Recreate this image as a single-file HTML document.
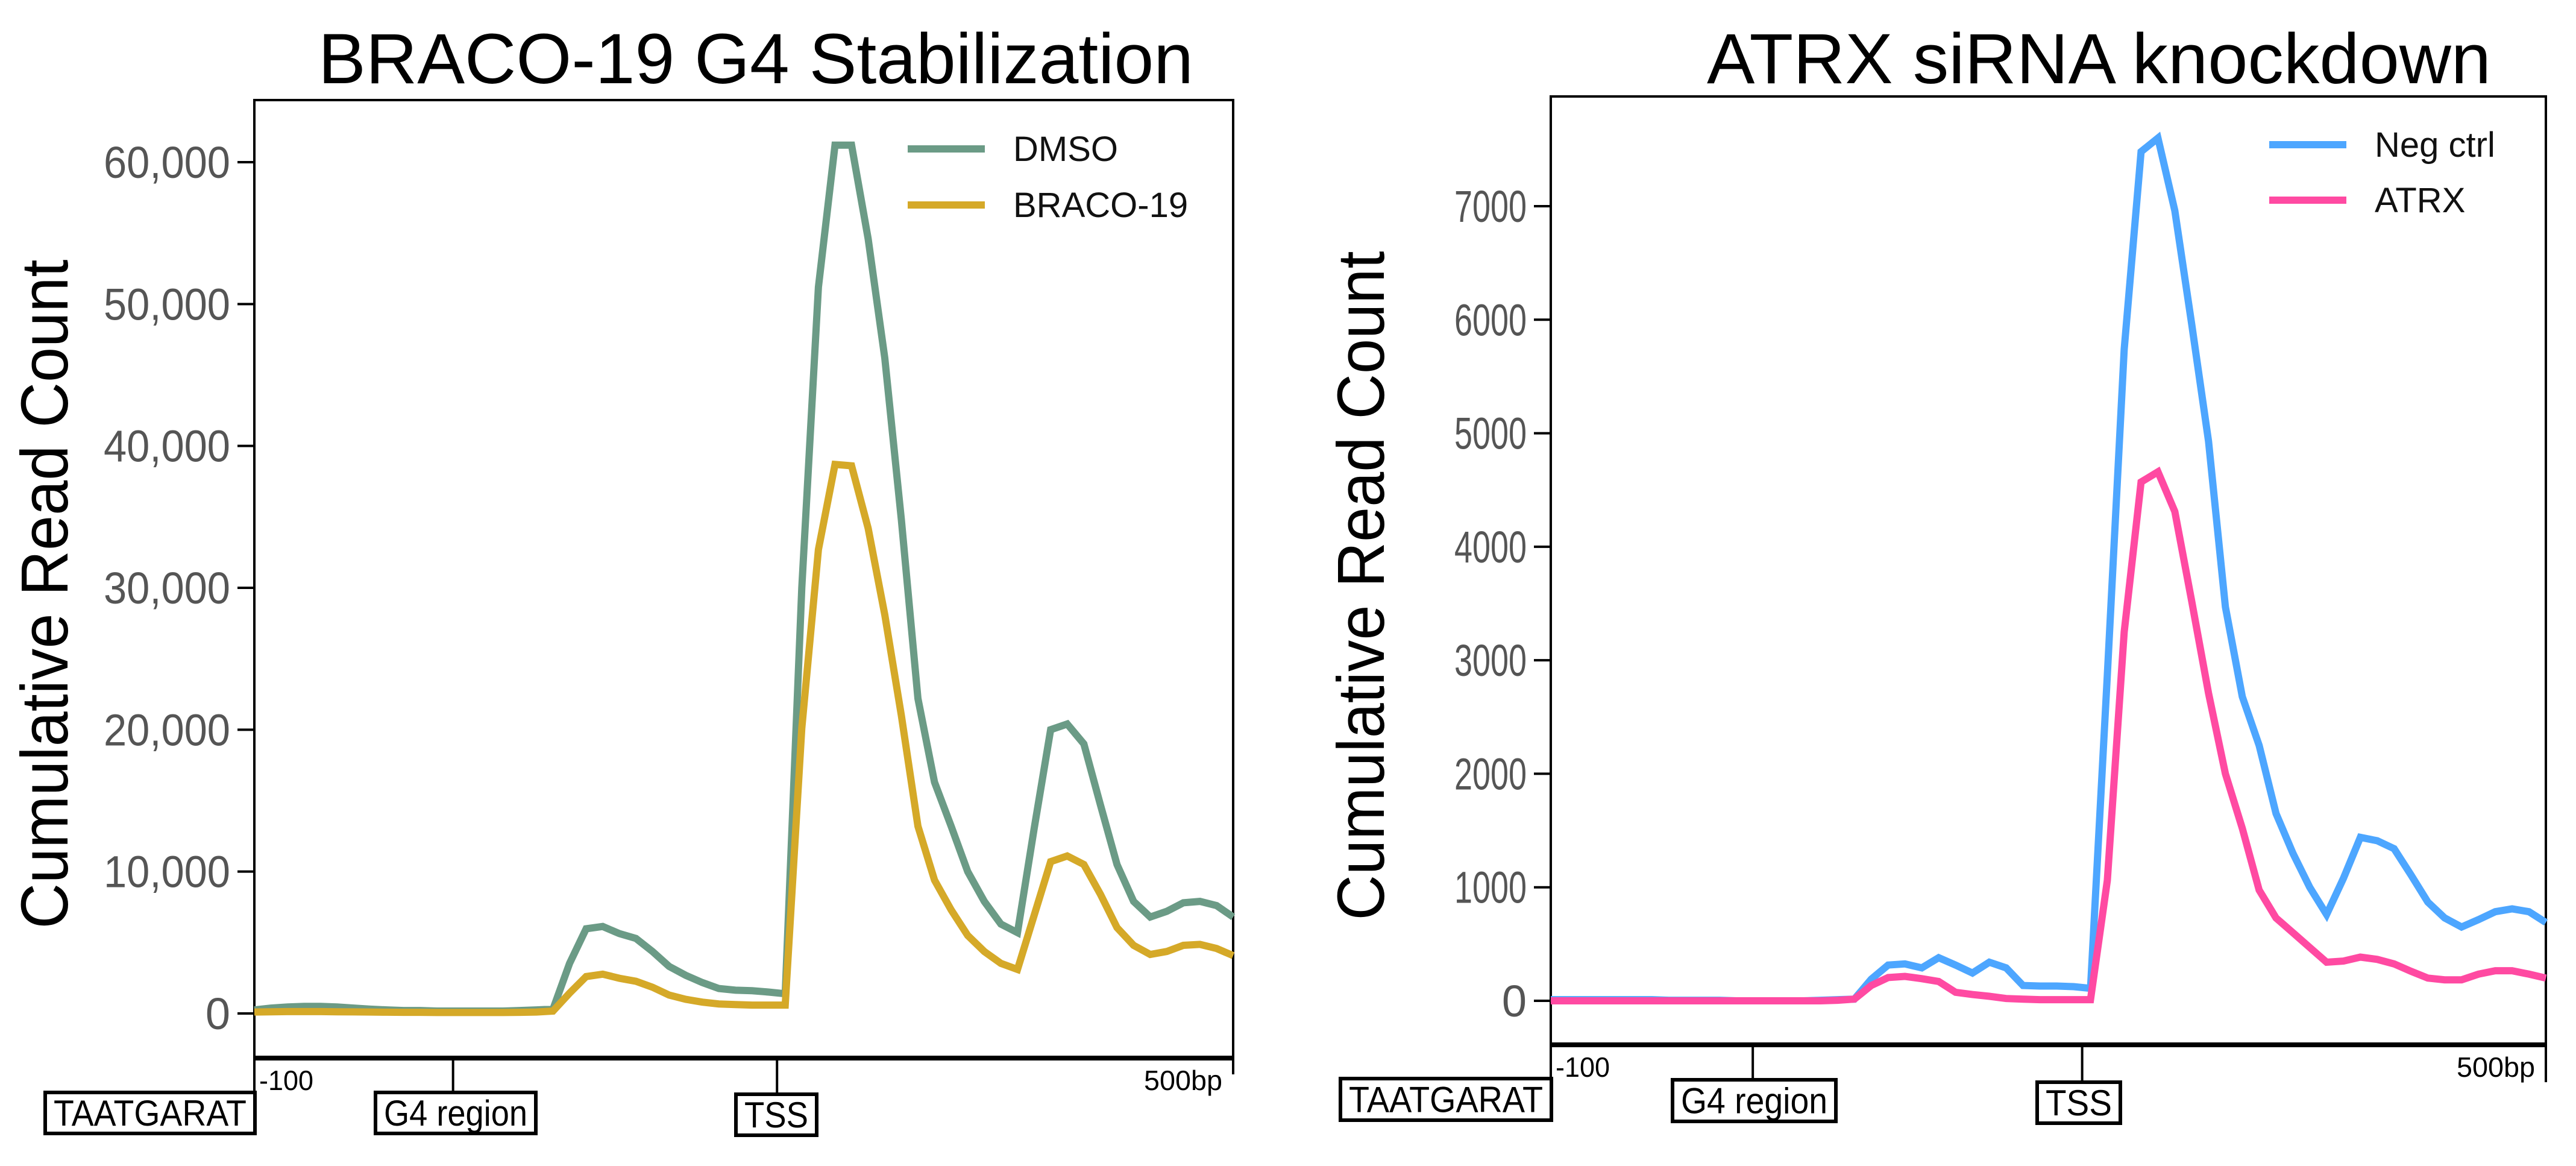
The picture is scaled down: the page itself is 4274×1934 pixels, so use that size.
<!DOCTYPE html>
<html><head><meta charset="utf-8"><style>
html,body{margin:0;padding:0;background:#fff;}
svg{display:block;font-family:"Liberation Sans",sans-serif;}
</style></head><body>
<svg id="fig" width="4274" height="1934" viewBox="0 0 4274 1934" xmlns="http://www.w3.org/2000/svg">
<g id="left"></g>
<g id="right"></g>
</svg>
<script>
// ---- data: left panel (BRACO-19 G4 Stabilization) ----
const dmsoValues = [250,380,460,500,500,460,380,300,250,210,210,170,170,170,170,170,210,250,300,3530,5970,6130,5630,5290,4370,3320,2690,2180,1760,1640,1600,1510,1390,30000,51200,61200,61200,54600,46200,34800,22200,16300,13200,10000,7900,6300,5700,13000,20000,20400,19000,14700,10500,7900,6800,7200,7800,7900,7600,6800];
const bracoValues = [100,120,130,130,130,120,110,100,90,80,80,70,70,70,70,70,80,100,170,1430,2600,2770,2480,2270,1850,1300,1000,800,670,630,590,590,590,20100,32700,38700,38600,34200,28100,21000,13200,9400,7300,5500,4370,3530,3100,6900,10700,11100,10500,8400,6050,4800,4160,4370,4800,4870,4580,4080];
const leftTicks = [0,10000,20000,30000,40000,50000,60000];
const leftTickLabels = ["0","10,000","20,000","30,000","40,000","50,000","60,000"];
// ---- data: right panel (ATRX siRNA knockdown) ----
const negValues = [10,10,10,10,10,10,10,5,5,5,5,0,0,0,0,0,5,10,15,190,315,325,290,380,315,245,340,290,135,130,130,125,110,2870,5740,7480,7600,6960,5960,4930,3470,2680,2250,1650,1300,1000,760,1080,1440,1410,1340,1110,870,730,650,715,785,810,785,690];
const atrxValues = [0,0,0,0,0,0,0,0,0,0,0,0,0,0,0,0,0,5,15,135,205,215,195,170,75,55,40,20,15,10,10,10,10,1060,3250,4570,4660,4310,3520,2710,2000,1520,975,730,600,470,340,350,385,365,325,260,200,185,185,235,265,265,235,200];
const rightTicks = [0,1000,2000,3000,4000,5000,6000,7000];
const rightTickLabels = ["0","1000","2000","3000","4000","5000","6000","7000"];

const NS="http://www.w3.org/2000/svg";
function mk(parent,tag,attrs,text){const e=document.createElementNS(NS,tag);for(const k in attrs)e.setAttribute(k,attrs[k]);if(text!==undefined)e.textContent=text;parent.appendChild(e);return e;}

function panel(g,cfg){
  const {L,R,T,B,y0,yPer,ticks,tickLabels,series,title,tx,tw,legend,ann}=cfg;
  const n=series[0].values.length;
  const xs=i=>L+(R-L)*i/(n-1);
  const ys=v=>y0-v*yPer;
  // frame
  const fr=mk(g,'rect',{x:L,y:T,width:R-L,height:B-T,fill:'none',stroke:'#000','stroke-width':4});
  
  
  const ba=mk(g,'line',{x1:L,x2:R,y1:B,y2:B,stroke:'#000','stroke-width':8});
  
  
  // title
  const t=mk(g,'text',{x:tx,y:138,'font-size':118,textLength:tw,lengthAdjust:'spacingAndGlyphs'},title);
  
  
  // y title
  const yt=mk(g,'text',{x:0,y:0,'font-size':110,'text-anchor':'middle',textLength:1110,lengthAdjust:'spacingAndGlyphs',transform:`translate(${cfg.ytx},${(T+B)/2+25}) rotate(-90)`},'Cumulative Read Count');
  
  
  // ticks
  ticks.forEach((v,i)=>{
    const y=ys(v);
    const tl=mk(g,'line',{x1:L-28,x2:L,y1:y,y2:y,stroke:'#000','stroke-width':4});
    
    
    const lab=tickLabels[i];
    const a={x:L-40,y:y+26,'font-size':74,fill:'#555','text-anchor':'end'};
    if(lab.length>1){a.textLength=lab.length*cfg.charW;a.lengthAdjust='spacingAndGlyphs';}
    const tt=mk(g,'text',a,lab);
    
    
  });
  // series
  series.forEach(s=>{
    const d=s.values.map((v,i)=>(i?'L':'M')+xs(i).toFixed(1)+','+ys(v).toFixed(1)).join(' ');
    const p=mk(g,'path',{d,fill:'none',stroke:s.color,'stroke-width':12,'stroke-linejoin':'miter'});
    
    
  });
  // legend
  series.forEach((s,i)=>{
    const ly=legend.y+i*legend.dy;
    const ll=mk(g,'line',{x1:legend.x,x2:legend.x+128,y1:ly,y2:ly,stroke:s.color,'stroke-width':12});
    
    
    const lt=mk(g,'text',{x:legend.x+175,y:ly+20,'font-size':58,fill:'#111'},s.label);
    
    
  });
  // x annotation ticks
  const W=R-L;
  [[0,ann.t0],[0.203,ann.t1],[0.534,ann.t2],[1,ann.t3]].forEach(([f,yb])=>{
    const x=L+W*f;
    const l=mk(g,'line',{x1:x,x2:x,y1:B,y2:yb,stroke:'#000','stroke-width':4});
    
    
  });
  const m1=mk(g,'text',{x:L+8,y:ann.ly,'font-size':46,textLength:90,lengthAdjust:'spacingAndGlyphs'},'-100');
  
  
  const m2=mk(g,'text',{x:R-18,y:ann.ly,'font-size':46,'text-anchor':'end',textLength:130,lengthAdjust:'spacingAndGlyphs'},'500bp');
  
  
  ann.boxes.forEach(b=>{
    const r=mk(g,'rect',{x:b.x,y:b.y,width:b.w,height:b.h,fill:'#fff',stroke:'#000','stroke-width':6});
    
    
    const tt=mk(g,'text',{x:b.x+b.w/2,y:b.y+b.h/2+21,'font-size':60,'text-anchor':'middle',textLength:b.w-28,lengthAdjust:'spacingAndGlyphs'},b.text);
    
    
  });
}

panel(document.getElementById('left'),{
  L:422,R:2046,T:166,B:1755,y0:1681,yPer:(1681-269)/60000,
  ticks:leftTicks,tickLabels:leftTickLabels,charW:35,
  series:[{name:'dmso',label:'DMSO',color:'#6b9b86',values:dmsoValues},{name:'braco-19',label:'BRACO-19',color:'#d5a928',values:bracoValues}],
  title:'BRACO-19 G4 Stabilization',tx:528,tw:1452,ytx:112,
  legend:{x:1506,y:247,dy:93},
  ann:{t0:1812,t1:1812,t2:1815,t3:1782,ly:1808,boxes:[
    {name:'taatgarat',text:'TAATGARAT',x:75,y:1812,w:348,h:68},
    {name:'g4-region',text:'G4 region',x:623,y:1812,w:266,h:68},
    {name:'tss',text:'TSS',x:1221,y:1815,w:134,h:68}]}
});
panel(document.getElementById('right'),{
  L:2573,R:4224,T:160,B:1733,y0:1660,yPer:(1660-342)/7000,
  ticks:rightTicks,tickLabels:rightTickLabels,charW:30,
  series:[{name:'neg-ctrl',label:'Neg ctrl',color:'#4da6ff',values:negValues},{name:'atrx',label:'ATRX',color:'#ff4aa2',values:atrxValues}],
  title:'ATRX siRNA knockdown',tx:2832,tw:1301,ytx:2296,
  legend:{x:3765,y:240,dy:92},
  ann:{t0:1789,t1:1791,t2:1795,t3:1795,ly:1786,boxes:[
    {name:'taatgarat',text:'TAATGARAT',x:2224,y:1789,w:350,h:69},
    {name:'g4-region',text:'G4 region',x:2775,y:1791,w:271,h:69},
    {name:'tss',text:'TSS',x:3380,y:1795,w:138,h:68}]}
});
</script>
</body></html>
